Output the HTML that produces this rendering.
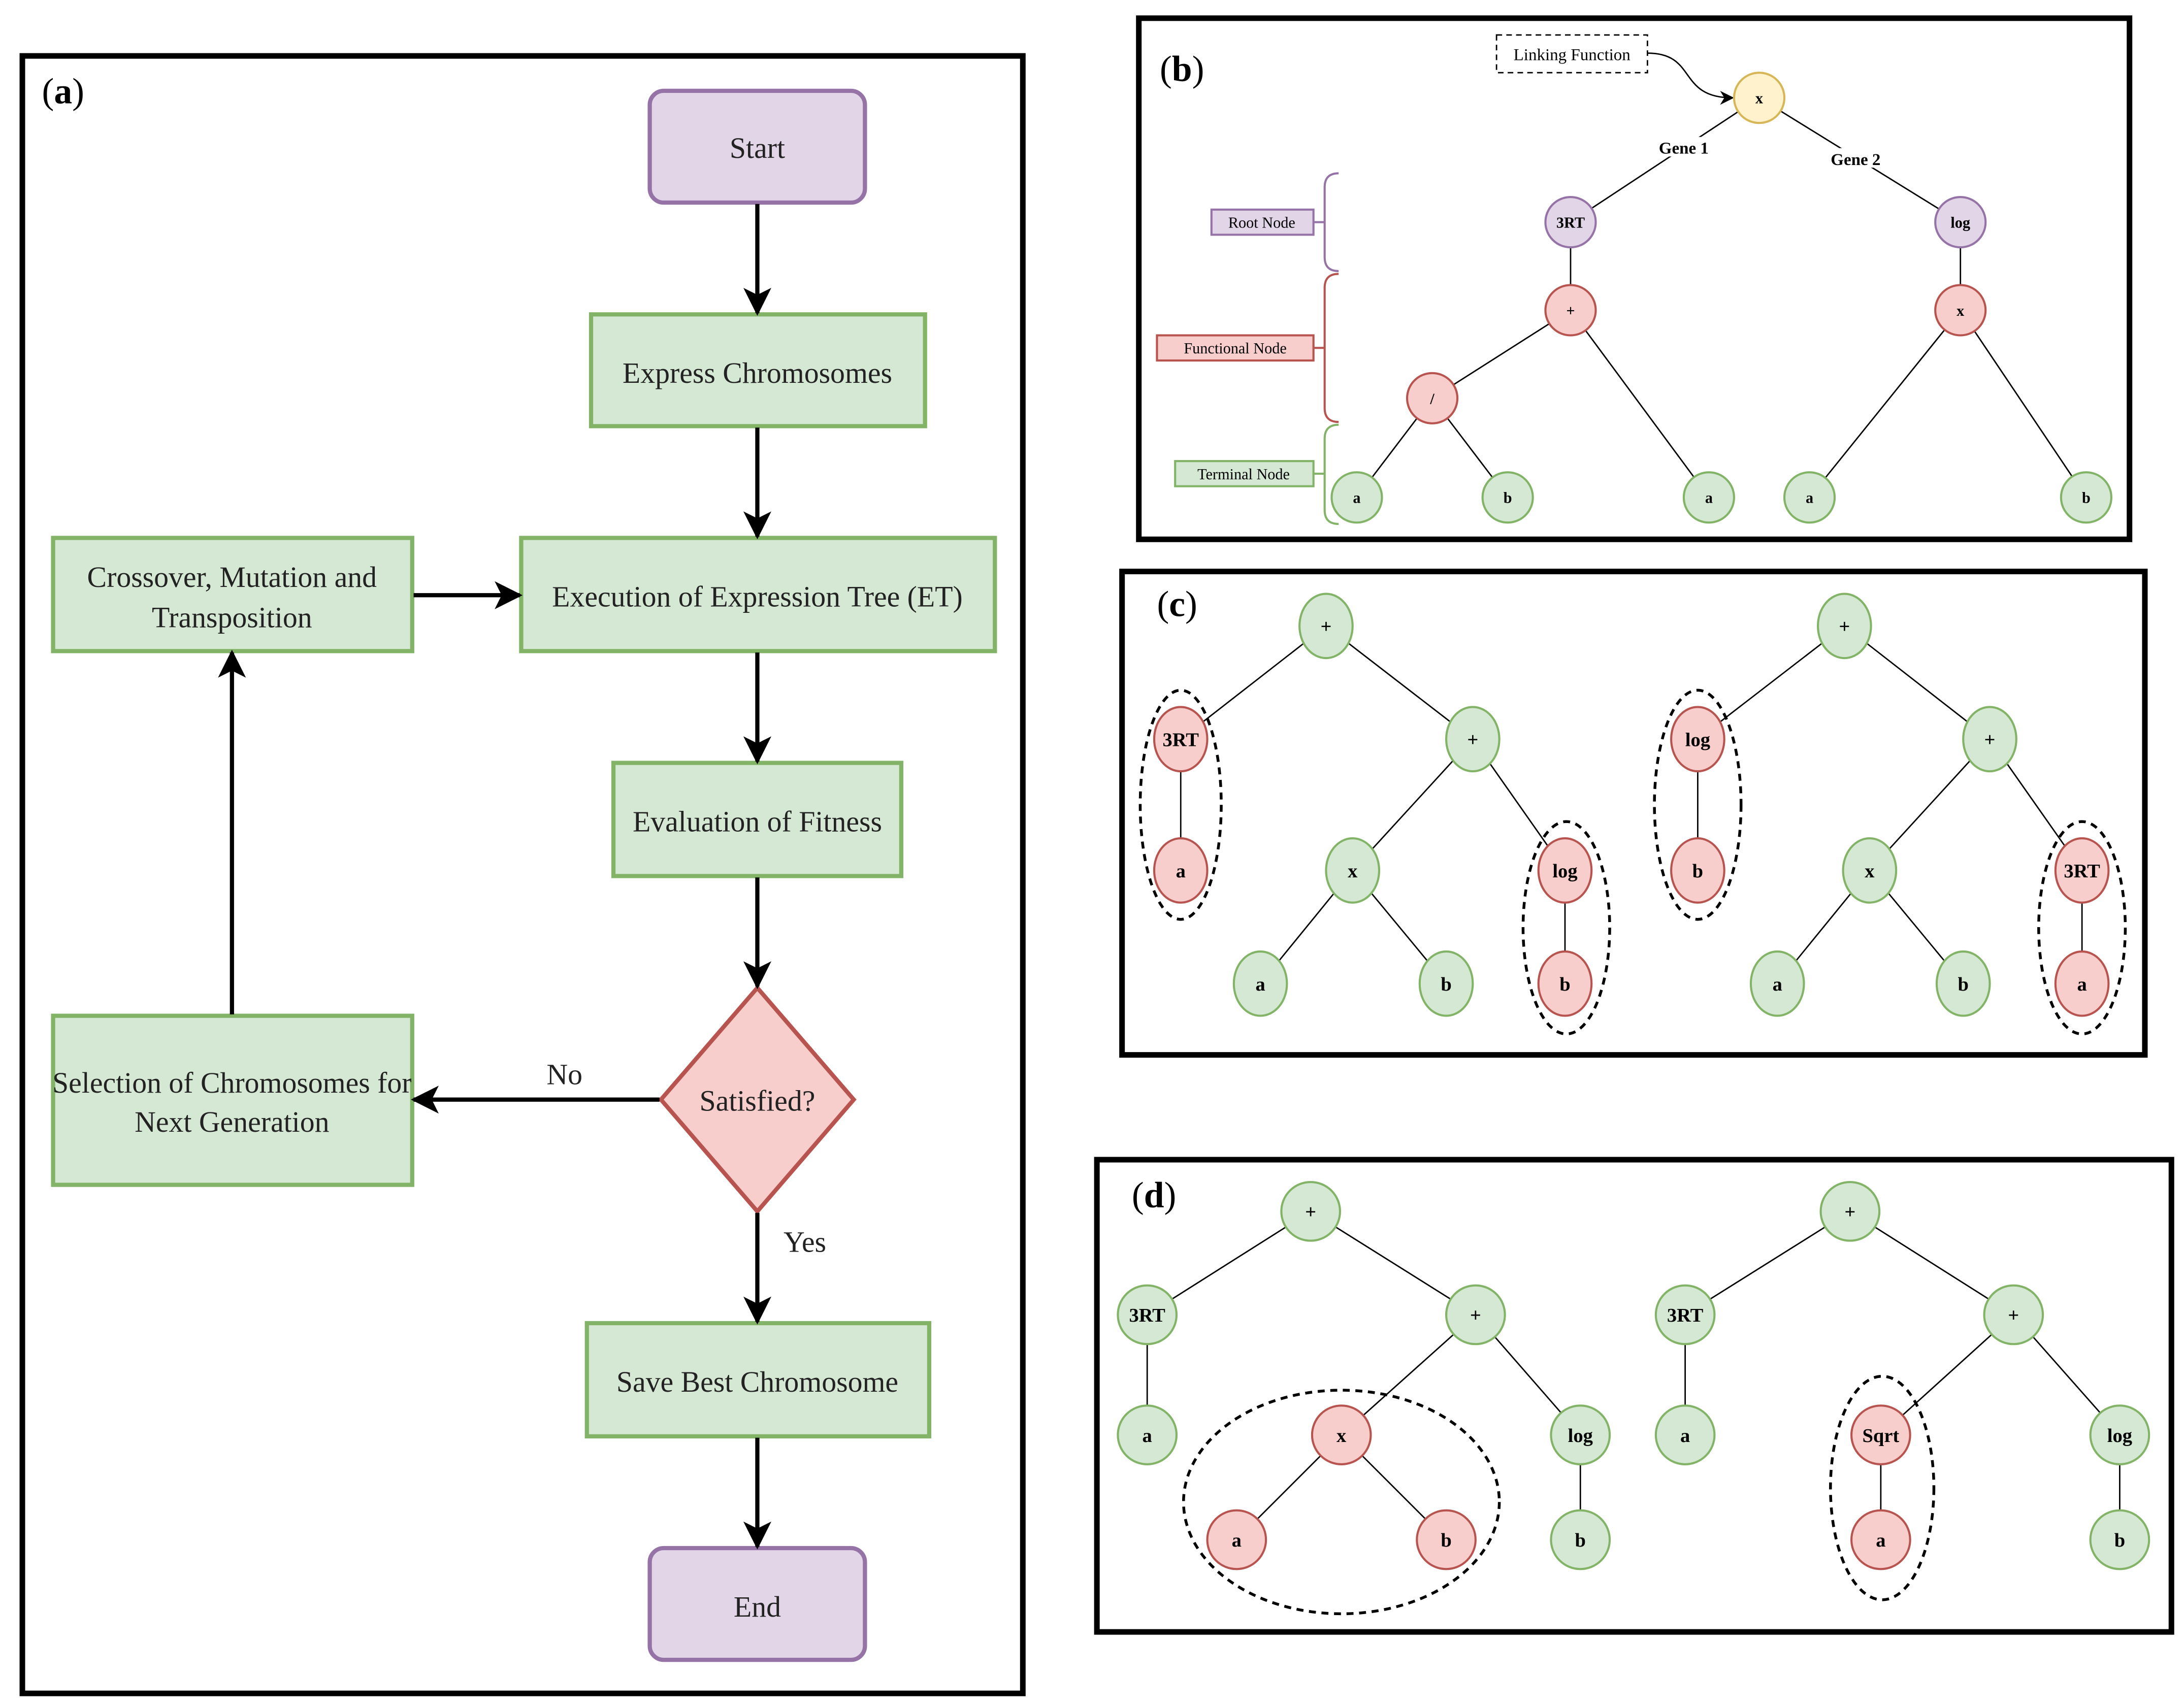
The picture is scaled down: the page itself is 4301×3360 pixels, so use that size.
<!DOCTYPE html>
<html><head><meta charset="utf-8"><style>
html,body{margin:0;padding:0;background:#fff}
svg{display:block}
text{font-family:"Liberation Serif",serif}
</style></head><body>
<svg width="4301" height="3360" viewBox="0 0 1563 1221" xmlns="http://www.w3.org/2000/svg">
<defs>
<marker id="ah" markerWidth="10" markerHeight="10" refX="9" refY="5" orient="auto" markerUnits="userSpaceOnUse"><path d="M0,0 L10,5 L0,10 L3,5 z" fill="#000"/></marker>
<marker id="big" markerWidth="20" markerHeight="20" refX="18" refY="10" orient="auto" markerUnits="userSpaceOnUse"><path d="M0,0 L20,10 L0,20 L5,10 z" fill="#000"/></marker>
</defs>
<rect width="1563" height="1221" fill="#fff"/>
<!-- Panel a -->
<rect x="16" y="40" width="716" height="1172" fill="none" stroke="#000" stroke-width="4"/>
<text x="30" y="74" font-size="26">(<tspan font-weight="bold">a</tspan>)</text>
<g stroke-width="3">
<rect x="465" y="65" width="154" height="80" rx="10" fill="#e1d5e7" stroke="#9673a6"/>
<rect x="423" y="225" width="239" height="80" fill="#d5e8d4" stroke="#82b366"/>
<rect x="373" y="385" width="339" height="81" fill="#d5e8d4" stroke="#82b366"/>
<rect x="38" y="385" width="257" height="81" fill="#d5e8d4" stroke="#82b366"/>
<rect x="439" y="546" width="206" height="81" fill="#d5e8d4" stroke="#82b366"/>
<path d="M542,707 L611,787 L542,867 L473,787 Z" fill="#f8cecc" stroke="#b85450"/>
<rect x="38" y="727" width="257" height="121" fill="#d5e8d4" stroke="#82b366"/>
<rect x="420" y="947" width="245" height="81" fill="#d5e8d4" stroke="#82b366"/>
<rect x="465" y="1108" width="154" height="80" rx="10" fill="#e1d5e7" stroke="#9673a6"/>
</g>
<g font-size="21" text-anchor="middle" fill="#222">
<text x="542" y="113">Start</text>
<text x="542" y="274">Express Chromosomes</text>
<text x="542" y="434">Execution of Expression Tree (ET)</text>
<text x="166" y="420">Crossover, Mutation and</text>
<text x="166" y="449">Transposition</text>
<text x="542" y="595">Evaluation of Fitness</text>
<text x="542" y="795">Satisfied?</text>
<text x="166" y="782">Selection of Chromosomes for</text>
<text x="166" y="810">Next Generation</text>
<text x="542" y="996">Save Best Chromosome</text>
<text x="542" y="1157">End</text>
<text x="404" y="776">No</text>
<text x="576" y="896">Yes</text>
</g>
<g stroke="#000" stroke-width="3" marker-end="url(#big)">
<line x1="542" y1="146" x2="542" y2="224"/>
<line x1="542" y1="306" x2="542" y2="384"/>
<line x1="542" y1="467" x2="542" y2="545"/>
<line x1="542" y1="628" x2="542" y2="706"/>
<line x1="542" y1="868" x2="542" y2="946"/>
<line x1="542" y1="1029" x2="542" y2="1107"/>
<line x1="296" y1="426" x2="372" y2="426"/>
<line x1="166" y1="726" x2="166" y2="467"/>
<line x1="472" y1="787" x2="296" y2="787"/>
</g>
<!-- Panel b -->
<rect x="815" y="13" width="709" height="373" fill="none" stroke="#000" stroke-width="4"/>
<text x="830" y="58" font-size="26">(<tspan font-weight="bold">b</tspan>)</text>
<rect x="1071" y="25" width="108" height="27" fill="none" stroke="#000" stroke-dasharray="4,3"/>
<text x="1125" y="43" font-size="12" text-anchor="middle">Linking Function</text>
<path d="M1179,38 C1215,38 1200,70 1240,70" fill="none" stroke="#000" marker-end="url(#ah)"/>
<g stroke="#000" stroke-width="1">
<line x1="1259" y1="70" x2="1124" y2="159"/><line x1="1259" y1="70" x2="1403" y2="159"/>
<line x1="1124" y1="159" x2="1124" y2="222"/><line x1="1403" y1="159" x2="1403" y2="222"/>
<line x1="1124" y1="222" x2="1025" y2="285"/><line x1="1124" y1="222" x2="1223" y2="356"/>
<line x1="1025" y1="285" x2="971" y2="356"/><line x1="1025" y1="285" x2="1079" y2="356"/>
<line x1="1403" y1="222" x2="1295" y2="356"/><line x1="1403" y1="222" x2="1493" y2="356"/>
</g>
<rect x="1180" y="98" width="50" height="14" fill="#fff"/><text x="1205" y="110" font-size="12" font-weight="bold" text-anchor="middle">Gene 1</text>
<rect x="1303" y="106" width="50" height="14" fill="#fff"/><text x="1328" y="118" font-size="12" font-weight="bold" text-anchor="middle">Gene 2</text>
<g stroke-width="1.5" font-size="11" font-weight="bold" text-anchor="middle">
<circle cx="1259" cy="70" r="18" fill="#fff2cc" stroke="#d6b656"/><text x="1259" y="74">x</text>
<circle cx="1124" cy="159" r="18" fill="#e1d5e7" stroke="#9673a6"/><text x="1124" y="163">3RT</text>
<circle cx="1403" cy="159" r="18" fill="#e1d5e7" stroke="#9673a6"/><text x="1403" y="163">log</text>
<circle cx="1124" cy="222" r="18" fill="#f8cecc" stroke="#b85450"/><text x="1124" y="226">+</text>
<circle cx="1403" cy="222" r="18" fill="#f8cecc" stroke="#b85450"/><text x="1403" y="226">x</text>
<circle cx="1025" cy="285" r="18" fill="#f8cecc" stroke="#b85450"/><text x="1025" y="289">/</text>
<circle cx="971" cy="356" r="18" fill="#d5e8d4" stroke="#82b366"/><text x="971" y="360">a</text>
<circle cx="1079" cy="356" r="18" fill="#d5e8d4" stroke="#82b366"/><text x="1079" y="360">b</text>
<circle cx="1223" cy="356" r="18" fill="#d5e8d4" stroke="#82b366"/><text x="1223" y="360">a</text>
<circle cx="1295" cy="356" r="18" fill="#d5e8d4" stroke="#82b366"/><text x="1295" y="360">a</text>
<circle cx="1493" cy="356" r="18" fill="#d5e8d4" stroke="#82b366"/><text x="1493" y="360">b</text>
</g>
<g stroke-width="1.5" font-size="11" text-anchor="middle">
<rect x="867" y="150" width="73" height="18" fill="#e1d5e7" stroke="#9673a6"/><text x="903" y="163">Root Node</text>
<rect x="828" y="240" width="112" height="18" fill="#f8cecc" stroke="#b85450"/><text x="884" y="253">Functional Node</text>
<rect x="841" y="330" width="99" height="18" fill="#d5e8d4" stroke="#82b366"/><text x="890" y="343">Terminal Node</text>
</g>
<g fill="none" stroke-width="1.5">
<line x1="940" y1="159" x2="948" y2="159" stroke="#9673a6"/>
<path d="M958,124 Q948,124 948,134 L948,159 L948,184 Q948,194 958,194" stroke="#9673a6"/>
<line x1="940" y1="249" x2="948" y2="249" stroke="#b85450"/>
<path d="M958,196 Q948,196 948,206 L948,292 Q948,302 958,302" stroke="#b85450"/>
<line x1="940" y1="339" x2="948" y2="339" stroke="#82b366"/>
<path d="M958,304 Q948,304 948,314 L948,365 Q948,375 958,375" stroke="#82b366"/>
</g>
<!-- Panel c -->
<rect x="803" y="409" width="732" height="346" fill="none" stroke="#000" stroke-width="4"/>
<text x="828" y="441" font-size="26">(<tspan font-weight="bold">c</tspan>)</text>
<g stroke="#000" stroke-width="1">
<line x1="949" y1="448" x2="845" y2="529"/><line x1="949" y1="448" x2="1054" y2="529"/>
<line x1="845" y1="529" x2="845" y2="623"/><line x1="1054" y1="529" x2="968" y2="623"/><line x1="1054" y1="529" x2="1120" y2="623"/>
<line x1="968" y1="623" x2="902" y2="704"/><line x1="968" y1="623" x2="1035" y2="704"/><line x1="1120" y1="623" x2="1120" y2="704"/>
<line x1="1320" y1="448" x2="1215" y2="529"/><line x1="1320" y1="448" x2="1424" y2="529"/>
<line x1="1215" y1="529" x2="1215" y2="623"/><line x1="1424" y1="529" x2="1338" y2="623"/><line x1="1424" y1="529" x2="1490" y2="623"/>
<line x1="1338" y1="623" x2="1272" y2="704"/><line x1="1338" y1="623" x2="1405" y2="704"/><line x1="1490" y1="623" x2="1490" y2="704"/>
</g>
<g stroke-width="1.5" font-size="14" font-weight="bold" text-anchor="middle">
<g fill="#d5e8d4" stroke="#82b366">
<ellipse cx="949" cy="448" rx="19" ry="23"/><ellipse cx="1054" cy="529" rx="19" ry="23"/><ellipse cx="968" cy="623" rx="19" ry="23"/>
<ellipse cx="902" cy="704" rx="19" ry="23"/><ellipse cx="1035" cy="704" rx="19" ry="23"/>
<ellipse cx="1320" cy="448" rx="19" ry="23"/><ellipse cx="1424" cy="529" rx="19" ry="23"/><ellipse cx="1338" cy="623" rx="19" ry="23"/>
<ellipse cx="1272" cy="704" rx="19" ry="23"/><ellipse cx="1405" cy="704" rx="19" ry="23"/>
</g>
<g fill="#f8cecc" stroke="#b85450">
<ellipse cx="845" cy="529" rx="19" ry="23"/><ellipse cx="845" cy="623" rx="19" ry="23"/><ellipse cx="1120" cy="623" rx="19" ry="23"/><ellipse cx="1120" cy="704" rx="19" ry="23"/>
<ellipse cx="1215" cy="529" rx="19" ry="23"/><ellipse cx="1215" cy="623" rx="19" ry="23"/><ellipse cx="1490" cy="623" rx="19" ry="23"/><ellipse cx="1490" cy="704" rx="19" ry="23"/>
</g>
<g stroke="none" fill="#000">
<text x="949" y="453">+</text><text x="1054" y="534">+</text><text x="968" y="628">x</text><text x="902" y="709">a</text><text x="1035" y="709">b</text>
<text x="845" y="534">3RT</text><text x="845" y="628">a</text><text x="1120" y="628">log</text><text x="1120" y="709">b</text>
<text x="1320" y="453">+</text><text x="1424" y="534">+</text><text x="1338" y="628">x</text><text x="1272" y="709">a</text><text x="1405" y="709">b</text>
<text x="1215" y="534">log</text><text x="1215" y="628">b</text><text x="1490" y="628">3RT</text><text x="1490" y="709">a</text>
</g>
</g>
<g fill="none" stroke="#000" stroke-width="2" stroke-dasharray="5,4">
<ellipse cx="845" cy="576" rx="29" ry="82"/><ellipse cx="1121" cy="664" rx="31" ry="76"/>
<ellipse cx="1215" cy="576" rx="31" ry="82"/><ellipse cx="1490" cy="664" rx="31" ry="76"/>
</g>
<!-- Panel d -->
<rect x="785" y="830" width="769" height="338" fill="none" stroke="#000" stroke-width="4"/>
<text x="810" y="864" font-size="26">(<tspan font-weight="bold">d</tspan>)</text>
<g stroke="#000" stroke-width="1">
<line x1="938" y1="867" x2="821" y2="941"/><line x1="938" y1="867" x2="1056" y2="941"/>
<line x1="821" y1="941" x2="821" y2="1027"/><line x1="1056" y1="941" x2="960" y2="1027"/><line x1="1056" y1="941" x2="1131" y2="1027"/>
<line x1="960" y1="1027" x2="885" y2="1102"/><line x1="960" y1="1027" x2="1035" y2="1102"/><line x1="1131" y1="1027" x2="1131" y2="1102"/>
<line x1="1324" y1="867" x2="1206" y2="941"/><line x1="1324" y1="867" x2="1441" y2="941"/>
<line x1="1206" y1="941" x2="1206" y2="1027"/><line x1="1441" y1="941" x2="1346" y2="1027"/><line x1="1441" y1="941" x2="1517" y2="1027"/>
<line x1="1346" y1="1027" x2="1346" y2="1102"/><line x1="1517" y1="1027" x2="1517" y2="1102"/>
</g>
<g stroke-width="1.5" font-size="14" font-weight="bold" text-anchor="middle">
<g fill="#d5e8d4" stroke="#82b366">
<circle cx="938" cy="867" r="21"/><circle cx="821" cy="941" r="21"/><circle cx="1056" cy="941" r="21"/><circle cx="821" cy="1027" r="21"/><circle cx="1131" cy="1027" r="21"/><circle cx="1131" cy="1102" r="21"/>
<circle cx="1324" cy="867" r="21"/><circle cx="1206" cy="941" r="21"/><circle cx="1441" cy="941" r="21"/><circle cx="1206" cy="1027" r="21"/><circle cx="1517" cy="1027" r="21"/><circle cx="1517" cy="1102" r="21"/>
</g>
<g fill="#f8cecc" stroke="#b85450">
<circle cx="960" cy="1027" r="21"/><circle cx="885" cy="1102" r="21"/><circle cx="1035" cy="1102" r="21"/>
<circle cx="1346" cy="1027" r="21"/><circle cx="1346" cy="1102" r="21"/>
</g>
<g stroke="none" fill="#000">
<text x="938" y="872">+</text><text x="821" y="946">3RT</text><text x="1056" y="946">+</text><text x="821" y="1032">a</text><text x="1131" y="1032">log</text><text x="1131" y="1107">b</text>
<text x="960" y="1032">x</text><text x="885" y="1107">a</text><text x="1035" y="1107">b</text>
<text x="1324" y="872">+</text><text x="1206" y="946">3RT</text><text x="1441" y="946">+</text><text x="1206" y="1032">a</text><text x="1517" y="1032">log</text><text x="1517" y="1107">b</text>
<text x="1346" y="1032">Sqrt</text><text x="1346" y="1107">a</text>
</g>
</g>
<g fill="none" stroke="#000" stroke-width="2" stroke-dasharray="5,4">
<ellipse cx="960" cy="1075" rx="113" ry="80"/><ellipse cx="1347" cy="1065" rx="37" ry="80"/>
</g>
</svg>
</body></html>
